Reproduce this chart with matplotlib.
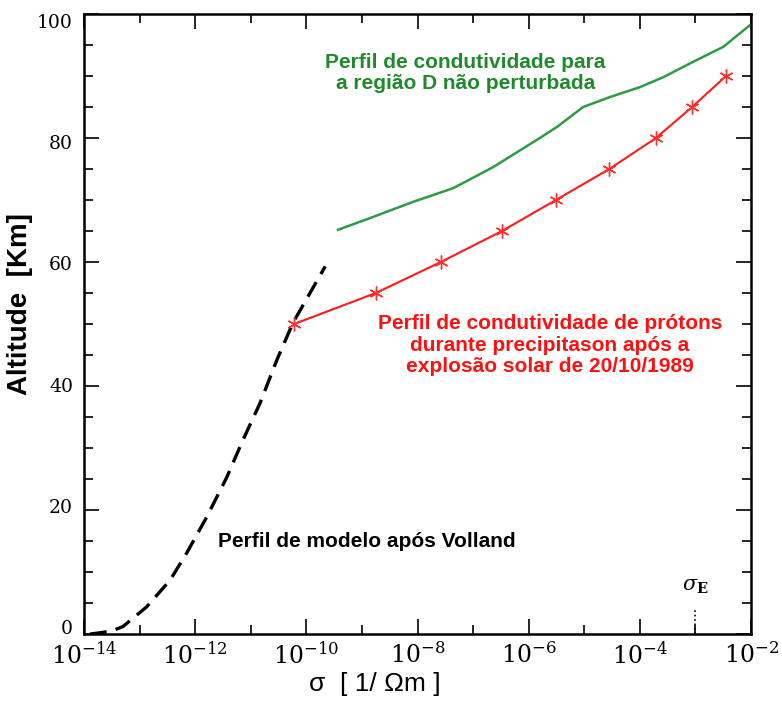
import matplotlib
matplotlib.use("Agg")
import matplotlib.pyplot as plt
import matplotlib.transforms as mtransforms
from matplotlib.ticker import LogLocator, MultipleLocator, NullFormatter, FixedLocator
import numpy as np

# model profile after Volland (dashed)
volland_log_sigma = [-13.89, -13.71, -13.50, -13.30, -12.87, -12.45, -12.15, -11.79,
                     -11.43, -11.14, -10.83, -10.53, -10.24, -9.66]
volland_alt = [0.0, 0.2, 0.5, 1.2, 4.4, 8.7, 13.1, 18.9, 25.3, 31.3, 37.3, 44.2, 50.2, 59.3]

# undisturbed D region (green)
dreg_log_sigma = [-9.43, -8.85, -8.08, -7.36, -6.64, -5.80, -5.49, -5.02,
                  -4.54, -4.00, -3.58, -3.04, -2.50, -2.02]
dreg_alt = [65.2, 67.1, 69.7, 71.9, 75.3, 80.0, 81.8, 85.0, 86.6, 88.2,
            89.8, 92.3, 94.7, 98.2]

# proton precipitation profile (red)
proton_log_sigma = [-10.22, -8.75, -7.58, -6.48, -5.51, -4.55, -3.71, -3.06, -2.45]
proton_alt = [50, 55, 60, 65, 70, 75, 80, 85, 90]

sigma_e = 1e-3
x_major = [1e-14, 1e-12, 1e-10, 1e-8, 1e-6, 1e-4, 1e-2]
x_minor = [1e-13, 1e-11, 1e-9, 1e-7, 1e-5, 1e-3]

plt.rcParams['font.family'] = ['Liberation Sans', 'DejaVu Sans']
plt.rcParams['mathtext.fontset'] = 'dejavuserif'

fig = plt.figure(figsize=(7.82, 7.04), dpi=100)
ax = fig.add_axes([0.1074, 0.0994, 0.8530, 0.8807])

ax.plot(10 ** np.array(volland_log_sigma), volland_alt, color='black', lw=2.4,
        dashes=(5, 2.8))
ax.plot(10 ** np.array(dreg_log_sigma), dreg_alt, color='#2e9a46', lw=1.8)
ax.plot(10 ** np.array(proton_log_sigma), proton_alt, color='#ff1a1a', lw=1.5,
        marker=(6, 2, 0), ms=10, mew=1.0, mec='#ff3030')

# sigma_E marker
ax.plot([sigma_e, sigma_e], [0, 4.2], color='black', lw=1.2, ls=':')
ax.text(sigma_e, 6.2, r'$\sigma_{\mathbf{E}}$', ha='center', va='bottom',
        fontsize=15)

ax.set_xscale('log')
ax.set_xlim(1e-14, 1e-2)
ax.set_ylim(0, 100)

ax.xaxis.set_major_locator(FixedLocator(x_major))
ax.xaxis.set_minor_locator(FixedLocator(x_minor))
ax.xaxis.set_minor_formatter(NullFormatter())
ax.yaxis.set_major_locator(MultipleLocator(20))
ax.yaxis.set_minor_locator(MultipleLocator(5))

ax.tick_params(which='both', direction='in', top=True, right=True, width=1.2)
ax.tick_params(which='major', length=11)
ax.tick_params(which='minor', length=6.5)
ax.tick_params(axis='y', which='major', pad=8)
ax.tick_params(axis='x', which='major', pad=6)
for sp in ax.spines.values():
    sp.set_linewidth(1.8)

ax.set_ylabel('Altitude  [Km]', fontsize=20, fontweight='bold')
ax.yaxis.set_label_coords(-0.077, 0.532)
ax.set_xlabel('σ  [ 1/ Ωm ]', fontsize=19)
ax.xaxis.set_label_coords(0.436, -0.062)

ax.text(10 ** -7.14, 90.5, 'Perfil de condutividade para\na região D não perturbada',
        color='#1f8a2a', fontsize=15, fontweight='bold', ha='center', va='center',
        linespacing=1.15)
ax.text(10 ** -5.62, 46.6,
        'Perfil de condutividade de prótons\ndurante precipitason após a\nexplosão solar de 20/10/1989',
        color='#ff1010', fontsize=15, fontweight='bold', ha='center', va='center',
        linespacing=1.15)
ax.text(10 ** -11.59, 15.0, 'Perfil de modelo após Volland', color='black',
        fontsize=15, fontweight='bold', ha='left', va='center')

fig.canvas.draw()
for lab in ax.get_xticklabels():
    lab.set_family('DejaVu Serif')
    lab.set_fontsize(17)
# y labels in the original sit slightly pulled toward the middle
for tick in ax.yaxis.get_major_ticks():
    val = tick.get_loc()
    dy = (50 - val) / 50 * 5.0  # points
    off = mtransforms.ScaledTranslation(0, dy / 72, fig.dpi_scale_trans)
    tick.label1.set_transform(tick.label1.get_transform() + off)
    tick.label1.set_family('DejaVu Serif')
    tick.label1.set_fontsize(13.5)

fig.savefig('out.png', dpi=100)
